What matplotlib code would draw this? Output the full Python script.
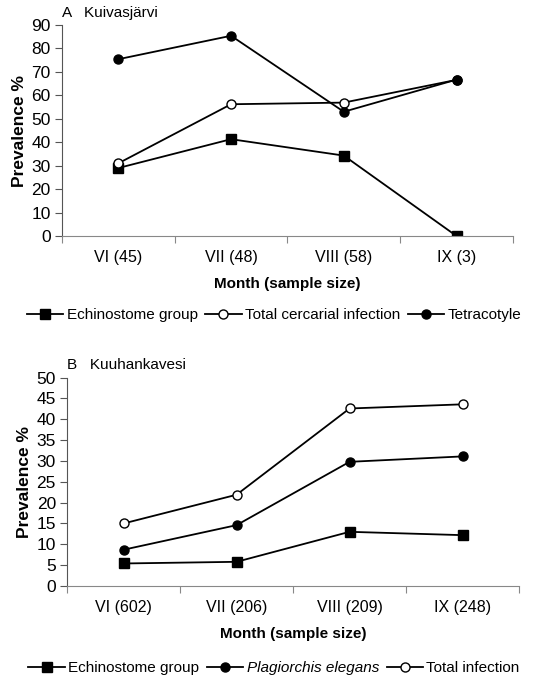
import matplotlib
matplotlib.use("Agg")
import matplotlib.pyplot as plt

plt.rcParams['font.family'] = ['Liberation Sans', 'DejaVu Sans']

months_a = ["VI (45)", "VII (48)", "VIII (58)", "IX (3)"]
echino_a = [29, 41.3, 34.3, 0]
total_a = [31, 56.2, 56.9, 66.6]
tetra_a = [75.4, 85.4, 53.0, 66.7]

months_b = ["VI (602)", "VII (206)", "VIII (209)", "IX (248)"]
echino_b = [5.4, 5.8, 13.0, 12.2]
plagio_b = [8.7, 14.6, 29.8, 31.1]
total_b = [15.0, 21.9, 42.6, 43.6]

fig = plt.figure(figsize=(5.48, 6.79), dpi=100)


def style_axes(ax, labels, ymax, step, title):
    ax.set_xlim(0, 4)
    ax.set_ylim(0, ymax)
    ax.set_yticks(range(0, ymax + 1, step))
    ax.set_xticks([0, 1, 2, 3, 4])
    ax.set_xticklabels([])
    ax.set_xticks([0.5, 1.5, 2.5, 3.5], minor=True)
    ax.set_xticklabels(labels, minor=True, fontsize=11.5)
    ax.tick_params(axis='x', which='minor', length=0, pad=10)
    ax.tick_params(axis='x', which='major', length=5, direction='out', color='#888888')
    ax.tick_params(axis='y', length=5, labelsize=12.5, pad=3, color='#555555')
    ax.spines['top'].set_visible(False)
    ax.spines['right'].set_visible(False)
    ax.spines['bottom'].set_color('#888888')
    ax.spines['left'].set_color('#555555')
    ax.set_xlabel("Month (sample size)", fontsize=11, fontweight='bold', labelpad=9)
    ax.set_ylabel("Prevalence %", fontsize=12.5, fontweight='bold', labelpad=3)
    ax.text(0.0, 1.025, title, transform=ax.transAxes, fontsize=11, va='bottom', ha='left')


x = [0.5, 1.5, 2.5, 3.5]
kw = dict(color='black', linewidth=1.3, markersize=6.5)
legkw = dict(loc='center', ncol=3, frameon=False, fontsize=11,
             handlelength=2.4, handletextpad=0.2, columnspacing=0.5)

ax1 = fig.add_axes([0.113, 0.6524, 0.823, 0.3108])
ax1.plot(x, echino_a, marker='s', label="Echinostome group", **kw)
ax1.plot(x, total_a, marker='o', markerfacecolor='white', label="Total cercarial infection", **kw)
ax1.plot(x, tetra_a, marker='o', label="Tetracotyle", **kw)
style_axes(ax1, months_a, 90, 10, "A   Kuivasjärvi")
h1, l1 = ax1.get_legend_handles_labels()
fig.legend(h1, l1, bbox_to_anchor=(0.5, 0.536), **legkw)

ax2 = fig.add_axes([0.1223, 0.137, 0.825, 0.3068])
ax2.plot(x, echino_b, marker='s', label="Echinostome group", **kw)
ax2.plot(x, plagio_b, marker='o', label="Plagiorchis elegans", **kw)
ax2.plot(x, total_b, marker='o', markerfacecolor='white', label="Total infection", **kw)
style_axes(ax2, months_b, 50, 5, "B   Kuuhankavesi")
h2, l2 = ax2.get_legend_handles_labels()
leg2 = fig.legend(h2, l2, bbox_to_anchor=(0.5, 0.016), **legkw)
leg2.get_texts()[1].set_style('italic')

fig.savefig("out.png", dpi=100)
